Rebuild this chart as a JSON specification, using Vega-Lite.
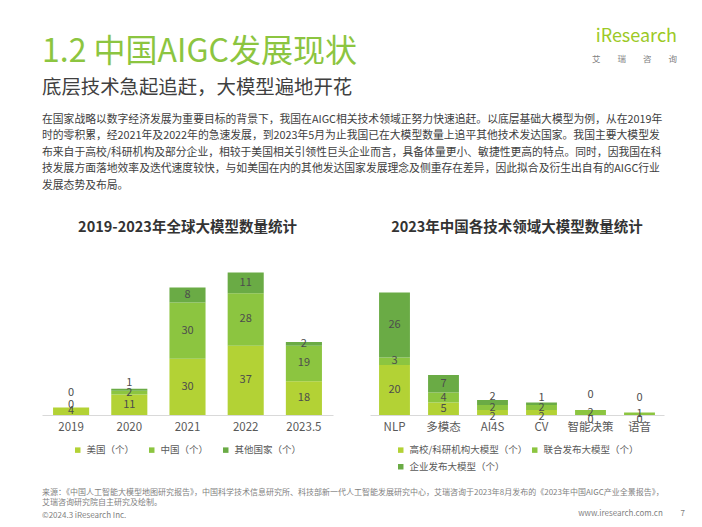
{
  "$schema": "https://vega.github.io/schema/vega-lite/v6.json",
  "background": "white",
  "padding": {"left": 42, "top": 27, "right": 5, "bottom": 0},
  "config": {
    "font": "Noto Sans CJK SC",
    "view": {"stroke": null},
    "axis": {"title": null, "labelAngle": 0, "ticks": false, "domainColor": "#d9d9d9", "labelFontSize": 11.5, "labelColor": "#595959", "labelPadding": 6, "labelFont": "Noto Sans CJK SC"},
    "legend": {"orient": "bottom", "direction": "horizontal", "title": null, "symbolType": "square", "symbolSize": 30, "labelFontSize": 9.5, "labelColor": "#595959", "columnPadding": 12, "offset": 12, "labelFont": "Noto Sans CJK SC", "layout": {"bottom": {"anchor": "middle"}}},
    "title": {"font": "Noto Sans CJK SC"}
  },
  "title": {"text": "iResearch", "subtitle": "艾　　瑞　　咨　　询", "orient": "top", "anchor": "end", "offset": -27, "dx": -8, "fontSize": 18, "fontWeight": "normal", "color": "#9cc925", "subtitleFontSize": 8.5, "subtitleColor": "#7f7f7f", "subtitlePadding": 9},
  "vconcat": [
    {
      "title": {"text": "1.2 中国AIGC发展现状", "subtitle": "底层技术急起追赶，大模型遍地开花", "anchor": "start", "fontSize": 32, "fontWeight": "normal", "color": "#8cc540", "subtitleFontSize": 19.4, "subtitleColor": "#404040", "subtitlePadding": 10, "offset": 15},
      "vconcat": [
        {
          "title": {"text": "www.iresearch.com.cn　　 7", "orient": "bottom", "anchor": "end", "offset": -10, "dx": 21, "fontSize": 8, "fontWeight": "normal", "color": "#7f7f7f"},
          "vconcat": [
            {
              "title": {"text": ["来源：《中国人工智能大模型地图研究报告》，中国科学技术信息研究所、科技部新一代人工智能发展研究中心，艾瑞咨询于2023年8月发布的《2023年中国AIGC产业全景报告》，", "艾瑞咨询研究院自主研究及绘制。"], "subtitle": "©2024.3 iResearch Inc.", "orient": "bottom", "anchor": "start", "offset": 17, "fontSize": 8, "lineHeight": 10, "fontWeight": "normal", "color": "#7f7f7f", "subtitleFontSize": 8, "subtitleColor": "#7f7f7f", "subtitlePadding": 5},
              "vconcat": [
                {
                  "title": {"text": ["在国家战略以数字经济发展为重要目标的背景下，我国在AIGC相关技术领域正努力快速追赶。以底层基础大模型为例，从在2019年", "时的零积累，经2021年及2022年的急速发展，到2023年5月为止我国已在大模型数量上追平其他技术发达国家。我国主要大模型发", "布来自于高校/科研机构及部分企业，相较于美国相关引领性巨头企业而言，具备体量更小、敏捷性更高的特点。同时，因我国在科", "技发展方面落地效率及迭代速度较快，与如美国在内的其他发达国家发展理念及侧重存在差异，因此拟合及衍生出自有的AIGC行业", "发展态势及布局。"], "anchor": "start", "fontSize": 10.8, "lineHeight": 16.5, "fontWeight": "normal", "color": "#404040", "offset": 29},
                  "spacing": 37,
                  "resolve": {"scale": {"color": "independent"}, "legend": {"color": "independent"}},
                  "hconcat": [
                    {
                      "width": 291,
                      "height": 150,
                      "title": {"text": "2019-2023年全球大模型数量统计", "fontSize": 14.5, "fontWeight": "bold", "color": "#333333", "anchor": "middle", "offset": 30},
                      "data": {"values": [
                        {"year": "2019", "s": "美国（个）", "k": 1, "v": 4},
                        {"year": "2019", "s": "中国（个）", "k": 2, "v": 0},
                        {"year": "2019", "s": "其他国家（个）", "k": 3, "v": 0},
                        {"year": "2020", "s": "美国（个）", "k": 1, "v": 11},
                        {"year": "2020", "s": "中国（个）", "k": 2, "v": 2},
                        {"year": "2020", "s": "其他国家（个）", "k": 3, "v": 1},
                        {"year": "2021", "s": "美国（个）", "k": 1, "v": 30},
                        {"year": "2021", "s": "中国（个）", "k": 2, "v": 30},
                        {"year": "2021", "s": "其他国家（个）", "k": 3, "v": 8},
                        {"year": "2022", "s": "美国（个）", "k": 1, "v": 37},
                        {"year": "2022", "s": "中国（个）", "k": 2, "v": 28},
                        {"year": "2022", "s": "其他国家（个）", "k": 3, "v": 11},
                        {"year": "2023.5", "s": "美国（个）", "k": 1, "v": 18},
                        {"year": "2023.5", "s": "中国（个）", "k": 2, "v": 19},
                        {"year": "2023.5", "s": "其他国家（个）", "k": 3, "v": 2}
                      ]},
                      "transform": [
                        {"stack": "v", "groupby": ["year"], "sort": [{"field": "k"}], "as": ["y0", "y1"]},
                        {"calculate": "(datum.y0 + datum.y1) / 2", "as": "ym"}
                      ],
                      "encoding": {
                        "x": {"field": "year", "type": "nominal", "sort": null, "scale": {"paddingInner": 0.38, "paddingOuter": 0.19}}
                      },
                      "layer": [
                        {
                          "mark": {"type": "bar"},
                          "encoding": {
                            "y": {"field": "y0", "type": "quantitative", "scale": {"domain": [0, 80]}, "axis": null},
                            "y2": {"field": "y1"},
                            "color": {"field": "s", "type": "nominal", "scale": {"domain": ["美国（个）", "中国（个）", "其他国家（个）"], "range": ["#b3d235", "#8cc540", "#6aab45"]}}
                          }
                        },
                        {
                          "transform": [{"filter": "datum.v > 0 && !(datum.year == '2020' && datum.k == 3)"}],
                          "mark": {"type": "text", "fontSize": 11, "color": "#4d4d4d", "baseline": "middle"},
                          "encoding": {"y": {"field": "ym", "type": "quantitative"}, "text": {"field": "v"}}
                        },
                        {
                          "transform": [{"filter": "datum.year == '2020' && datum.k == 3"}],
                          "mark": {"type": "text", "fontSize": 11, "color": "#4d4d4d", "baseline": "middle", "dy": -7},
                          "encoding": {"y": {"field": "ym", "type": "quantitative"}, "text": {"field": "v"}}
                        },
                        {
                          "transform": [{"filter": "datum.v == 0 && datum.k == 2"}],
                          "mark": {"type": "text", "fontSize": 11, "color": "#4d4d4d", "baseline": "middle", "dy": -3},
                          "encoding": {"y": {"field": "ym", "type": "quantitative"}, "text": {"field": "v"}}
                        },
                        {
                          "transform": [{"filter": "datum.v == 0 && datum.k == 3"}],
                          "mark": {"type": "text", "fontSize": 11, "color": "#4d4d4d", "baseline": "middle", "dy": -15},
                          "encoding": {"y": {"field": "ym", "type": "quantitative"}, "text": {"field": "v"}}
                        }
                      ]
                    },
                    {
                      "width": 294,
                      "height": 150,
                      "title": {"text": "2023年中国各技术领域大模型数量统计", "fontSize": 14.5, "fontWeight": "bold", "color": "#333333", "anchor": "middle", "offset": 30},
                      "data": {"values": [
                        {"d": "NLP", "s": "高校/科研机构大模型（个）", "k": 1, "v": 20},
                        {"d": "NLP", "s": "联合发布大模型（个）", "k": 2, "v": 3},
                        {"d": "NLP", "s": "企业发布大模型（个）", "k": 3, "v": 26},
                        {"d": "多模态", "s": "高校/科研机构大模型（个）", "k": 1, "v": 5},
                        {"d": "多模态", "s": "联合发布大模型（个）", "k": 2, "v": 4},
                        {"d": "多模态", "s": "企业发布大模型（个）", "k": 3, "v": 7},
                        {"d": "AI4S", "s": "高校/科研机构大模型（个）", "k": 1, "v": 2},
                        {"d": "AI4S", "s": "联合发布大模型（个）", "k": 2, "v": 2},
                        {"d": "AI4S", "s": "企业发布大模型（个）", "k": 3, "v": 2},
                        {"d": "CV", "s": "高校/科研机构大模型（个）", "k": 1, "v": 2},
                        {"d": "CV", "s": "联合发布大模型（个）", "k": 2, "v": 2},
                        {"d": "CV", "s": "企业发布大模型（个）", "k": 3, "v": 1},
                        {"d": "智能决策", "s": "高校/科研机构大模型（个）", "k": 1, "v": 0},
                        {"d": "智能决策", "s": "联合发布大模型（个）", "k": 2, "v": 2},
                        {"d": "智能决策", "s": "企业发布大模型（个）", "k": 3, "v": 0},
                        {"d": "语音", "s": "高校/科研机构大模型（个）", "k": 1, "v": 0},
                        {"d": "语音", "s": "联合发布大模型（个）", "k": 2, "v": 1},
                        {"d": "语音", "s": "企业发布大模型（个）", "k": 3, "v": 0}
                      ]},
                      "transform": [
                        {"stack": "v", "groupby": ["d"], "sort": [{"field": "k"}], "as": ["y0", "y1"]},
                        {"calculate": "(datum.y0 + datum.y1) / 2", "as": "ym"}
                      ],
                      "encoding": {
                        "x": {"field": "d", "type": "nominal", "sort": null, "scale": {"paddingInner": 0.37, "paddingOuter": 0.185}}
                      },
                      "layer": [
                        {
                          "mark": {"type": "bar"},
                          "encoding": {
                            "y": {"field": "y0", "type": "quantitative", "scale": {"domain": [0, 60]}, "axis": null},
                            "y2": {"field": "y1"},
                            "color": {"field": "s", "type": "nominal", "scale": {"domain": ["高校/科研机构大模型（个）", "联合发布大模型（个）", "企业发布大模型（个）"], "range": ["#b3d235", "#8cc540", "#6aab45"]}, "legend": {"columns": 2, "columnPadding": 2, "rowPadding": 6}}
                          }
                        },
                        {
                          "transform": [{"filter": "datum.v > 0 && !((datum.d == 'AI4S' || datum.d == 'CV') && datum.k != 2)"}],
                          "mark": {"type": "text", "fontSize": 11, "color": "#4d4d4d", "baseline": "middle"},
                          "encoding": {"y": {"field": "ym", "type": "quantitative"}, "text": {"field": "v"}}
                        },
                        {
                          "transform": [{"filter": "(datum.d == 'AI4S' || datum.d == 'CV') && datum.k == 3"}],
                          "mark": {"type": "text", "fontSize": 11, "color": "#4d4d4d", "baseline": "middle", "dy": -6},
                          "encoding": {"y": {"field": "ym", "type": "quantitative"}, "text": {"field": "v"}}
                        },
                        {
                          "transform": [{"filter": "(datum.d == 'AI4S' || datum.d == 'CV') && datum.k == 1"}],
                          "mark": {"type": "text", "fontSize": 11, "color": "#4d4d4d", "baseline": "middle", "dy": 4},
                          "encoding": {"y": {"field": "ym", "type": "quantitative"}, "text": {"field": "v"}}
                        },
                        {
                          "transform": [{"filter": "datum.v == 0 && datum.k == 1"}],
                          "mark": {"type": "text", "fontSize": 11, "color": "#4d4d4d", "baseline": "middle", "dy": 5},
                          "encoding": {"y": {"field": "ym", "type": "quantitative"}, "text": {"field": "v"}}
                        },
                        {
                          "transform": [{"filter": "datum.v == 0 && datum.k == 3"}],
                          "mark": {"type": "text", "fontSize": 11, "color": "#4d4d4d", "baseline": "middle", "dy": -15},
                          "encoding": {"y": {"field": "ym", "type": "quantitative"}, "text": {"field": "v"}}
                        }
                      ]
                    }
                  ]
                }
              ]
            }
          ]
        }
      ]
    }
  ]
}
